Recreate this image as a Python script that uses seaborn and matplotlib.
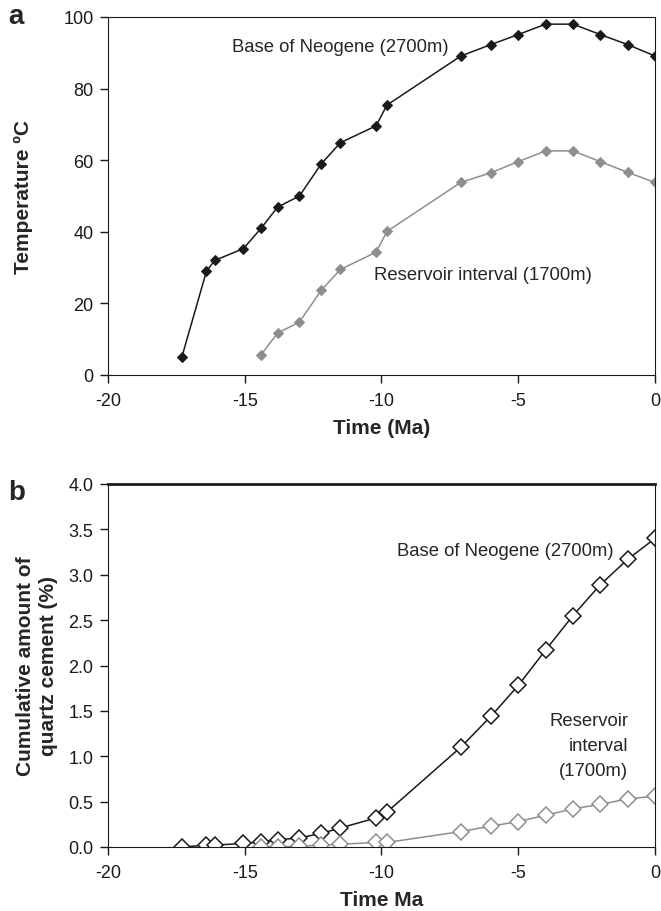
import numpy as np
import pandas as pd
import matplotlib
matplotlib.use("Agg")
import matplotlib.pyplot as plt
import seaborn as sns

# burial history: time (Ma) of each model step
time_base = [-17.3, -16.4, -16.1, -15.05, -14.4, -13.8, -13.0, -12.2, -11.5,
             -10.2, -9.8, -7.1, -6.0, -5.0, -4.0, -3.0, -2.0, -1.0, 0.0]
time_res = time_base[4:]

# panel a: temperature (deg C)
temp_base = [5.0, 29.0, 32.0, 35.3, 41.0, 46.9, 50.0, 59.0, 64.9,
             69.6, 75.4, 89.1, 92.3, 95.1, 98.0, 98.0, 95.1, 92.3, 89.1]
temp_res = [5.7, 11.7, 14.8, 23.7, 29.5, 34.3, 40.1, 53.8, 56.5,
            59.6, 62.6, 62.6, 59.6, 56.6, 53.8]

# panel b: cumulative quartz cement (%)
qc_base = [0.0, 0.02, 0.02, 0.04, 0.055, 0.08, 0.10, 0.15, 0.21,
           0.32, 0.385, 1.10, 1.44, 1.78, 2.17, 2.55, 2.89, 3.17, 3.40]
qc_res = [0.0, 0.0, 0.01, 0.02, 0.03, 0.05, 0.05, 0.17, 0.23,
          0.28, 0.35, 0.42, 0.47, 0.53, 0.56]

BLACK = "#1a1a1a"
GREY = "#8e8e8e"

sns.set_style("ticks")
plt.rcParams['font.family'] = ['Liberation Sans', 'DejaVu Sans']
plt.rcParams['axes.unicode_minus'] = False
plt.rcParams['xtick.direction'] = 'out'
plt.rcParams['ytick.direction'] = 'out'

fig = plt.figure(figsize=(6.61, 9.12), dpi=100)
ax1 = fig.add_axes([108/661, 1-376/912, (655-108)/661, (376-18)/912])
ax2 = fig.add_axes([108/661, 1-848/912, (655-108)/661, (848-485)/912])

# ---- panel a ----
sns.lineplot(x=time_base, y=temp_base, ax=ax1, color=BLACK, lw=1.1,
             marker='D', markersize=5.5, markeredgecolor=BLACK, markerfacecolor=BLACK)
sns.lineplot(x=time_res, y=temp_res, ax=ax1, color=GREY, lw=1.1,
             marker='D', markersize=5.5, markeredgecolor=GREY, markerfacecolor=GREY)
ax1.set_xlim(-20, 0)
ax1.set_ylim(0, 100)
ax1.set_xticks([-20, -15, -10, -5, 0])
ax1.set_yticks([0, 20, 40, 60, 80, 100])
ax1.set_xlabel("Time (Ma)", fontsize=15, fontweight='bold', labelpad=6)
ax1.set_ylabel("Temperature ºC", fontsize=15, fontweight='bold')
ax1.yaxis.set_label_coords(-0.138, 0.5)
ax1.text(-15.45, 91.7, "Base of Neogene (2700m)", fontsize=13.3, va='center', ha='left')
ax1.text(-10.27, 28.0, "Reservoir interval (1700m)", fontsize=13.3, va='center', ha='left')
fig.text(8/661, 1-17/912, "a", fontsize=20, fontweight='bold', va='center', ha='left')

# ---- panel b ----
sns.lineplot(x=time_base, y=qc_base, ax=ax2, color=BLACK, lw=1.1,
             marker='D', markersize=8, markeredgecolor=BLACK, markerfacecolor='white',
             markeredgewidth=1.1)
sns.lineplot(x=time_res, y=qc_res, ax=ax2, color=GREY, lw=1.1,
             marker='D', markersize=8, markeredgecolor=GREY, markerfacecolor='white',
             markeredgewidth=1.1)
ax2.set_xlim(-20, 0)
ax2.set_ylim(0, 4)
ax2.set_xticks([-20, -15, -10, -5, 0])
ax2.set_yticks(np.arange(0, 4.01, 0.5))
ax2.yaxis.set_major_formatter(matplotlib.ticker.FormatStrFormatter('%.1f'))
ax2.set_xlabel("Time Ma", fontsize=15, fontweight='bold', labelpad=6)
ax2.set_ylabel("Cumulative amount of\nquartz cement (%)", fontsize=15, fontweight='bold',
               linespacing=1.25)
ax2.yaxis.set_label_coords(-0.092, 0.5)
ax2.spines['top'].set_linewidth(2)
ax2.text(-9.42, 3.27, "Base of Neogene (2700m)", fontsize=13.3, va='center', ha='left')
ax2.text(-0.97, 1.12, "Reservoir\ninterval\n(1700m)", fontsize=13.3, va='center',
         ha='right', multialignment='right', linespacing=1.6)
fig.text(8/661, 1-493/912, "b", fontsize=20, fontweight='bold', va='center', ha='left')

for ax in (ax1, ax2):
    for s in ax.spines.values():
        s.set_visible(True)
        s.set_color(BLACK)
    ax.tick_params(labelsize=13, length=5.5, width=1, colors=BLACK)
    ax.tick_params(axis='x', pad=7)
    ax.tick_params(axis='y', pad=5)

fig.savefig("out.png", dpi=100)
